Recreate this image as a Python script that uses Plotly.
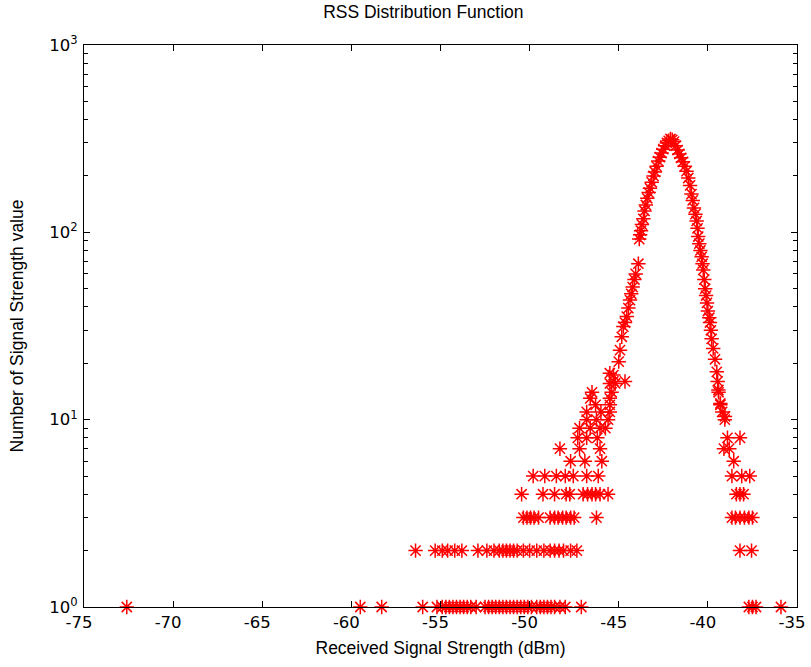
import plotly.graph_objects as go

# ---- data ----
rss_low_x = [-72.6, -59.5, -58.3, -56.0, -55.2, -54.9, -54.7, -54.5, -54.3, -54.1, -53.9,
             -53.7, -53.5, -53.3, -53.0, -52.5, -52.3, -52.1, -51.9, -51.7, -51.5, -51.3,
             -51.1, -50.9, -50.7, -50.5, -50.3, -50.1, -49.9, -49.6, -49.4, -49.2, -49.0,
             -48.8, -48.6, -48.3, -48.0, -47.1, -37.7, -37.5, -37.3, -35.9,
             -56.4, -55.3, -54.9, -54.6, -54.2, -53.8, -52.9, -52.4, -52.0, -51.7, -51.5,
             -51.3, -51.1, -50.9, -50.7, -50.35, -50.0, -49.6, -49.2, -48.85, -48.6, -48.35,
             -48.1, -47.7, -47.35, -38.2, -37.55,
             -50.35, -50.15, -49.95, -49.75, -49.5, -48.85, -48.6, -48.4, -48.15, -47.95,
             -47.7, -47.5, -46.25, -38.65, -38.45, -38.2, -37.95, -37.7, -37.5,
             -50.45, -49.25, -48.6, -47.95, -47.75, -47.0, -46.75, -46.5, -46.3, -46.05,
             -45.6, -38.4, -38.2, -38.0,
             -49.8, -49.15, -48.5, -48.0, -47.55, -46.8, -46.15, -38.65, -38.1, -37.65,
             -47.7, -46.9, -45.95, -38.55,
             -48.3, -47.2, -46.05, -39.1, -38.8,
             -47.3, -46.8, -46.2, -38.9, -38.2,
             -47.2, -46.6, -46.05, -45.75,
             -46.8, -46.25, -45.6, -39.05,
             -46.8, -46.0, -45.5,
             -46.3, -45.5, -39.3,
             -46.6, -45.5,
             -46.5, -45.4, -39.4,
             -45.3, -44.65,
             -45.2, -45.5]
rss_low_count = [1] * 42 + [2] * 27 + [3] * 19 + [4] * 14 + [5] * 10 + [6] * 4 + [7] * 5 \
    + [8] * 5 + [9] * 4 + [10] * 4 + [11] * 3 + [12] * 3 + [13] * 2 + [14] * 3 + [16] * 2 \
    + [15.6] * 2

rss_peak_x = [-45.5, -45.3, -45.0, -44.93, -44.83, -44.74, -44.65, -44.55, -44.46, -44.37,
              -44.3, -44.22, -44.12, -44.05, -43.9, -43.85, -43.8, -43.75, -43.7, -43.62,
              -43.55, -43.48, -43.4, -43.32, -43.25, -43.15, -43.05, -42.97, -42.88, -42.78,
              -42.7, -42.6, -42.5, -42.4, -42.3, -42.2, -42.1, -42.0, -41.9, -41.8, -41.7,
              -41.6, -41.5, -41.4, -41.3, -41.2, -41.1, -41.0, -40.92, -40.85, -40.78, -40.7,
              -40.63, -40.58, -40.54, -40.48, -40.42, -40.35, -40.3, -40.26, -40.2, -40.15,
              -40.1, -40.05, -40.0, -39.92, -39.88, -39.83, -39.79, -39.7, -39.6, -39.5,
              -39.45, -39.41, -39.3, -39.2, -39.04]
rss_peak_count = [17.7, 17.3, 20.4, 23.5, 27.7, 31.4, 33, 35.5, 39.4, 43.5,
                  47, 51, 56, 60, 68, 92, 97, 102, 110, 118,
                  130, 140, 152, 163, 172, 185, 200, 210, 225, 240,
                  252, 265, 278, 290, 300, 308, 315, 312, 305, 290, 275,
                  262, 250, 238, 225, 212, 195, 178, 160, 148, 135, 125,
                  115, 105, 95, 87, 80, 74, 68, 63, 56, 50,
                  46, 42, 38, 35, 33, 30, 27, 24, 21, 18,
                  16, 14.4, 12.2, 11, 10.4]

x_ticks = [-75, -70, -65, -60, -55, -50, -45, -40, -35]
y_ticks = [1, 10, 100, 1000]
y_tick_text = ["10<sup>0</sup>", "10<sup>1</sup>", "10<sup>2</sup>", "10<sup>3</sup>"]
y_minor = [m * d for d in (1, 10, 100) for m in range(2, 10)]

marker_style = dict(symbol="asterisk-open", size=12, color="red",
                    line=dict(color="red", width=1.5))

fig = go.Figure()
fig.add_trace(go.Scatter(x=rss_low_x + rss_peak_x, y=rss_low_count + rss_peak_count,
                         mode="markers", marker=marker_style, showlegend=False,
                         cliponaxis=False))

title_font = dict(family="Liberation Sans, Arial, sans-serif", size=17.5, color="black")
tick_font = dict(family="DejaVu Sans, sans-serif", size=16.5, color="black")

fig.update_layout(
    width=811, height=667,
    margin=dict(l=84, r=14, t=45, b=60),
    paper_bgcolor="white", plot_bgcolor="white",
    font=title_font,
    title=dict(text="RSS Distribution Function", x=0.522, xanchor="center",
               y=1 - 12 / 667, yanchor="middle", font=title_font),
)
fig.update_xaxes(
    automargin=False,
    range=[-75, -35], tickvals=x_ticks, ticktext=[str(v) for v in x_ticks],
    tickfont=tick_font, ticklabelshift=-5, ticklabelstandoff=0,
    ticks="inside", ticklen=6, tickcolor="black", showline=True, linecolor="black",
    linewidth=1, mirror="ticks", showgrid=False, zeroline=False,
    title=dict(text="Received Signal Strength (dBm)", standoff=10, font=title_font),
)
fig.update_yaxes(
    automargin=False,
    type="log", range=[0, 3], tickvals=y_ticks, ticktext=y_tick_text,
    tickfont=tick_font, ticklabelstandoff=2,
    ticks="inside", ticklen=6, tickcolor="black", showline=True, linecolor="black",
    linewidth=1, mirror="ticks", showgrid=False, zeroline=False,
    minor=dict(tickvals=y_minor, ticks="inside", ticklen=4, tickcolor="black",
               showgrid=False),
    title=dict(text="Number of Signal Strength value", standoff=21, font=title_font),
)

fig.write_html("out.html", config={"displayModeBar": False},
               post_script="document.body.style.margin = '0px';")
